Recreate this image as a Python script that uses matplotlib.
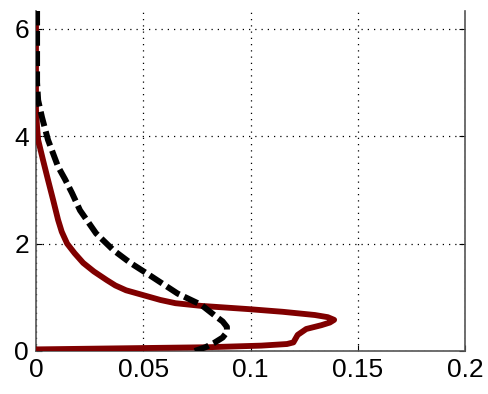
import matplotlib
matplotlib.use('Agg')
import matplotlib.pyplot as plt

# red profile (x, y)
red_x = [0.0, 0.04, 0.08, 0.105, 0.117, 0.12, 0.122, 0.126, 0.133, 0.137, 0.139, 0.136, 0.130,
         0.115, 0.099, 0.077, 0.065, 0.058, 0.05, 0.042, 0.037, 0.033, 0.027, 0.022, 0.018,
         0.0145, 0.012, 0.0103, 0.008, 0.0055, 0.0033, 0.001, 0.0005, 0.0, 0.0]
red_y = [0.03, 0.05, 0.07, 0.1, 0.13, 0.16, 0.3, 0.41, 0.48, 0.53, 0.58, 0.63, 0.67,
         0.73, 0.78, 0.84, 0.89, 0.95, 1.04, 1.13, 1.22, 1.32, 1.48, 1.64, 1.82,
         2.0, 2.22, 2.44, 2.81, 3.2, 3.55, 3.93, 4.17, 4.5, 6.33]

# black dashed profile
blk_x = [0.074, 0.079, 0.083, 0.087, 0.089, 0.089, 0.087, 0.084, 0.077, 0.066, 0.053, 0.044,
         0.036, 0.028, 0.0205, 0.0168, 0.0135, 0.0103, 0.0056, 0.0028, 0.001, 0.0005, 0.0005]
blk_y = [0.0, 0.07, 0.15, 0.25, 0.35, 0.45, 0.55, 0.64, 0.86, 1.07, 1.41, 1.64,
         1.88, 2.19, 2.62, 2.94, 3.2, 3.43, 3.93, 4.35, 4.67, 5.0, 6.33]

plt.rcParams['font.family'] = ['Liberation Sans', 'DejaVu Sans']

fig = plt.figure(figsize=(4.89, 3.94), dpi=100)
ax = fig.add_axes([36 / 489, 43 / 394, 429 / 489, 340 / 394])

ax.plot(red_x, red_y, color='#800000', lw=4.2, solid_joinstyle='round', zorder=3)
ax.plot(blk_x, blk_y, color='black', lw=4.3, dashes=(2.5, 0.9), zorder=4)

ax.set_xlim(0, 0.2)
ax.set_ylim(0, 6.33)
ax.set_xticks([0, 0.05, 0.1, 0.15, 0.2])
ax.set_xticklabels(['0', '0.05', '0.1', '0.15', '0.2'])
ax.set_yticks([0, 2, 4, 6])
ax.grid(True, linestyle=(0, (1, 4)), color='black', lw=0.9)
ax.tick_params(direction='in', length=4, labelsize=19, right=True, top=False, pad=5)
ax.spines['top'].set_visible(False)
for s in ['left', 'right', 'bottom']:
    ax.spines[s].set_color('#555555')
    ax.spines[s].set_linewidth(1.2)

fig.savefig('out.png', dpi=100)
